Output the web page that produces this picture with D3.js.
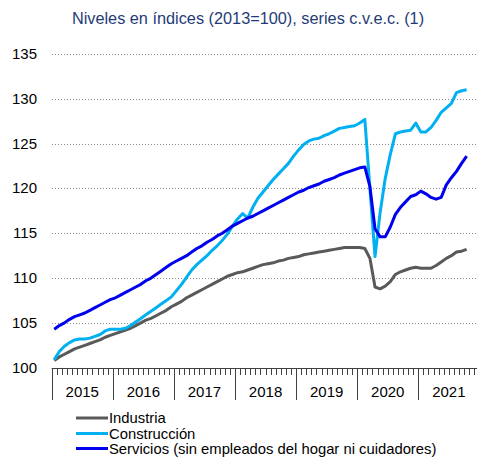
<!DOCTYPE html>
<html>
<head>
<meta charset="utf-8">
<script src="https://cdn.jsdelivr.net/npm/d3@7"></script>
<style>
  body { margin: 0; background: #fff; }
  svg { display: block; font-family: "Liberation Sans", Arial, sans-serif; }
</style>
</head>
<body>
<svg id="chart" width="477" height="457"></svg>
<script>
// Monthly data, Jan 2015 - Oct 2021
var years = ["2015", "2016", "2017", "2018", "2019", "2020", "2021"];
var yTicks = [100, 105, 110, 115, 120, 125, 130, 135];

var industria = [
    100.8, 101.2, 101.5, 101.8, 102.1, 102.3, 102.5, 102.7, 102.9, 103.1, 103.4, 103.6,
    103.8, 104.0, 104.2, 104.4, 104.7, 105.0, 105.3, 105.5, 105.8, 106.1, 106.4, 106.8,
    107.1, 107.4, 107.8, 108.1, 108.4, 108.7, 109.0, 109.3, 109.6, 109.9, 110.2, 110.4,
    110.6, 110.7, 110.9, 111.1, 111.3, 111.5, 111.6, 111.7, 111.9, 112.0, 112.2, 112.3,
    112.4, 112.6, 112.7, 112.8, 112.9, 113.0, 113.1, 113.2, 113.3, 113.4, 113.4, 113.4,
    113.4, 113.3, 112.2, 109.0, 108.8, 109.1, 109.6, 110.4, 110.7, 110.9, 111.1, 111.2,
    111.1, 111.1, 111.1, 111.4, 111.8, 112.2, 112.5, 112.9, 113.0, 113.2
];

var construccion = [
    100.9, 101.8, 102.4, 102.8, 103.1, 103.2, 103.2, 103.3, 103.5, 103.7, 104.1, 104.3,
    104.3, 104.3, 104.4, 104.7, 105.1, 105.5, 105.9, 106.3, 106.7, 107.1, 107.5, 107.9,
    108.6, 109.3, 110.1, 110.9, 111.5, 112.0, 112.5, 113.1, 113.6, 114.2, 114.9, 115.8,
    116.6, 117.2, 116.7, 117.9, 118.9, 119.6, 120.3, 121.0, 121.6, 122.2, 122.8, 123.6,
    124.3, 124.9, 125.3, 125.5, 125.6, 125.9, 126.1, 126.4, 126.7, 126.8, 126.9, 127.0,
    127.3, 127.7, 120.0, 112.4, 117.3, 121.1, 123.8, 126.1, 126.3, 126.4, 126.5, 127.3,
    126.3, 126.3, 126.8, 127.6, 128.5, 129.0, 129.5, 130.7, 130.9, 131.0
];

var servicios = [
    104.3, 104.7, 105.0, 105.4, 105.7, 105.9, 106.1, 106.4, 106.7, 107.0, 107.3, 107.6,
    107.8, 108.1, 108.4, 108.7, 109.0, 109.3, 109.7, 110.0, 110.4, 110.8, 111.2, 111.6,
    111.9, 112.2, 112.5, 112.9, 113.3, 113.6, 114.0, 114.3, 114.7, 115.0, 115.4, 115.8,
    116.1, 116.4, 116.7, 116.9, 117.2, 117.5, 117.8, 118.1, 118.4, 118.7, 119.0, 119.3,
    119.6, 119.8, 120.1, 120.3, 120.5, 120.8, 121.0, 121.2, 121.5, 121.7, 121.9, 122.1,
    122.3, 122.4, 120.2, 115.5, 114.6, 114.6, 115.7, 117.1, 117.9, 118.5, 119.1, 119.3,
    119.7, 119.4, 119.0, 118.8, 119.0, 120.4, 121.2, 121.9, 122.8, 123.6
];

var seriesNames = ["Industria", "Construcción", "Servicios (sin empleados del hogar ni cuidadores)"];
var seriesColors = ["#595959", "#00b0f0", "#0000ee"];
var seriesData = [industria, construccion, servicios];

var svg = d3.select("#chart");

// months from Jan 2015 to Jan 2022
var xScale = d3.scaleLinear().domain([0, 84]).range([51.7, 479.4]);
var yScale = d3.scaleLinear().domain([100, 135]).range([367.7, 54]);

// Title
svg.append("text")
    .attr("x", 248)
    .attr("y", 24)
    .attr("text-anchor", "middle")
    .attr("fill", "#1f3c78")
    .style("font-size", "16.3px")
    .text("Niveles en índices (2013=100), series c.v.e.c. (1)");

// Gridlines
svg.append("g")
    .selectAll("line")
    .data(yTicks.filter(d => d > 100))
    .join("line")
    .attr("x1", 52)
    .attr("x2", 476)
    .attr("y1", d => Math.round(yScale(d)) + 0.5)
    .attr("y2", d => Math.round(yScale(d)) + 0.5)
    .attr("stroke", "#8c8c8c")
    .attr("stroke-width", 1)
    .attr("stroke-dasharray", "1,2");

// Y labels
svg.append("g")
    .selectAll("text")
    .data(yTicks)
    .join("text")
    .attr("x", 37)
    .attr("y", d => yScale(d) + 5)
    .attr("text-anchor", "end")
    .attr("fill", "#000")
    .style("font-size", "15px")
    .text(d => d);

// X axis line
svg.append("line")
    .attr("x1", xScale(0))
    .attr("x2", 477)
    .attr("y1", 368.5)
    .attr("y2", 368.5)
    .attr("stroke", "#404040")
    .attr("stroke-width", 1);

// Monthly ticks
svg.append("g")
    .selectAll("line")
    .data(d3.range(0, 85))
    .join("line")
    .attr("x1", d => Math.round(xScale(d)) + 0.5)
    .attr("x2", d => Math.round(xScale(d)) + 0.5)
    .attr("y1", 368)
    .attr("y2", d => d % 12 === 0 ? 400 : 375)
    .attr("stroke", "#404040")
    .attr("stroke-width", 1);

// Year labels
svg.append("g")
    .selectAll("text")
    .data(years)
    .join("text")
    .attr("x", (d, i) => xScale(i * 12 + 6))
    .attr("y", 397)
    .attr("text-anchor", "middle")
    .attr("fill", "#000")
    .style("font-size", "15px")
    .text(d => d);

// Lines
var line = d3.line()
    .x((d, i) => xScale(i + 0.5))
    .y(d => yScale(d));

svg.append("g")
    .selectAll("path")
    .data(seriesData)
    .join("path")
    .attr("d", d => line(d))
    .attr("fill", "none")
    .attr("stroke", (d, i) => seriesColors[i])
    .attr("stroke-width", 3)
    .attr("stroke-linejoin", "round");

// Legend
var legend = svg.append("g")
    .selectAll("g")
    .data(seriesNames)
    .join("g")
    .attr("transform", (d, i) => "translate(0," + [418, 433.5, 448.5][i] + ")");

legend.append("line")
    .attr("x1", 76)
    .attr("x2", 108)
    .attr("stroke", (d, i) => seriesColors[i])
    .attr("stroke-width", 3);

legend.append("text")
    .attr("x", 109)
    .attr("y", 5)
    .attr("fill", "#000")
    .style("font-size", "14.8px")
    .text(d => d);
</script>
</body>
</html>
